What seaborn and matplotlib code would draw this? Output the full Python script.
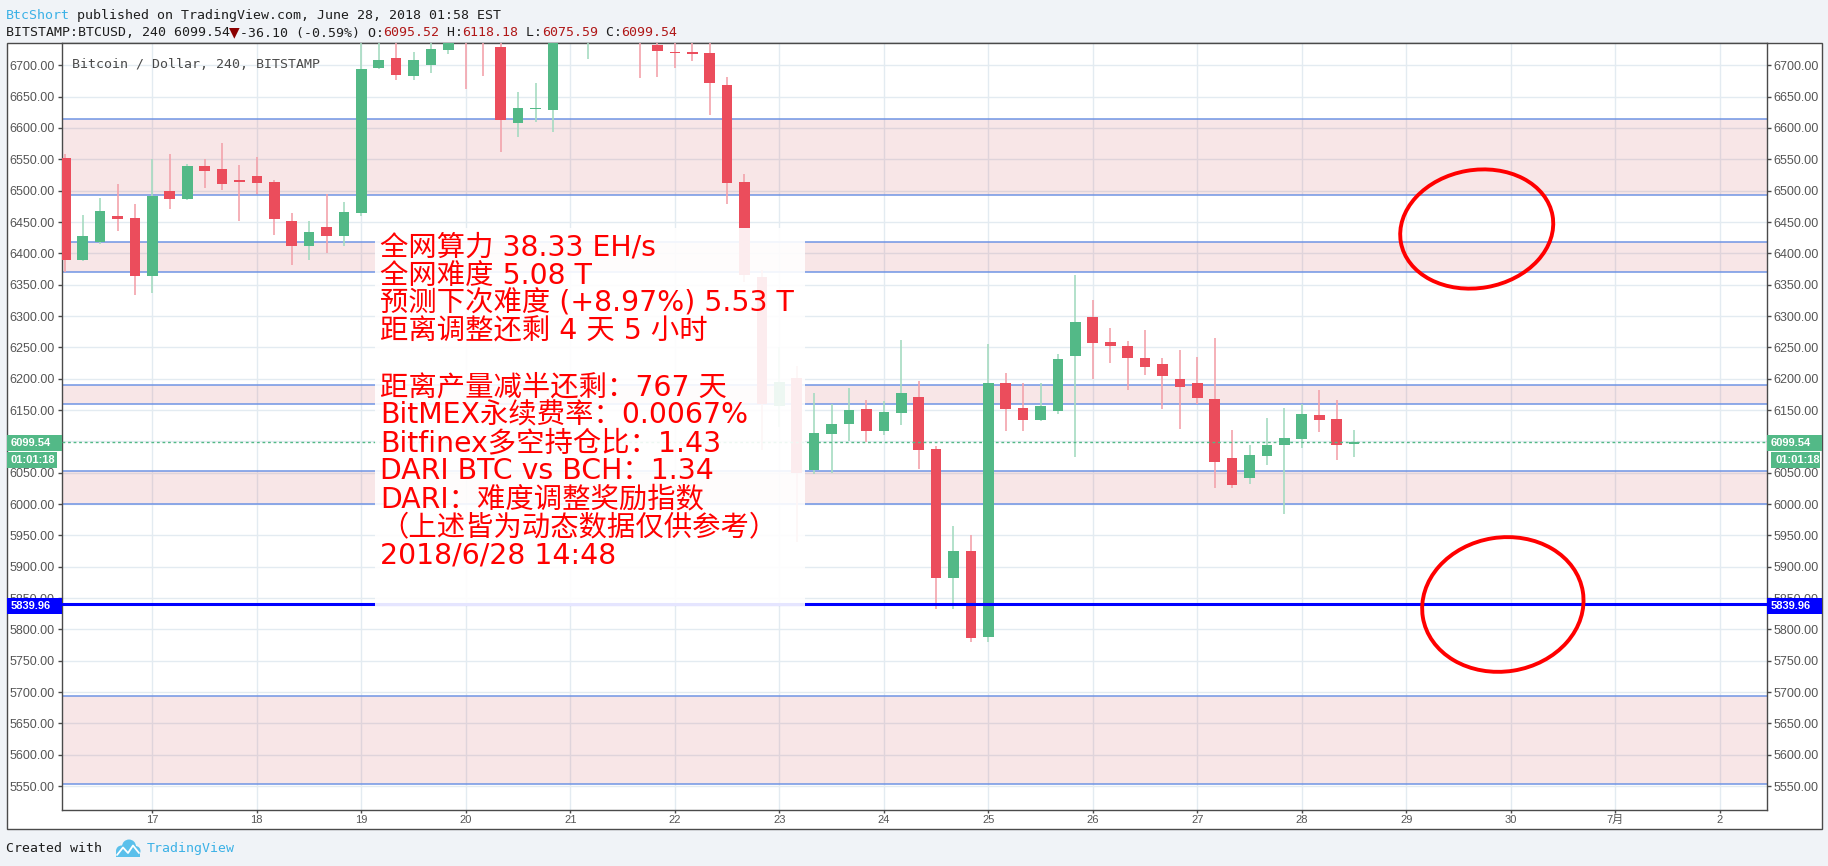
import numpy as np
import pandas as pd
import matplotlib
matplotlib.use('Agg')
import matplotlib.pyplot as plt
import matplotlib.dates as mdates
from matplotlib.patches import Rectangle, Ellipse, Circle
from matplotlib.transforms import ScaledTranslation, blended_transform_factory
import seaborn as sns

#4h candles of BITSTAMP:BTCUSD, first bar 2018-06-16 04:00
first_bar = '2018-06-16 04:00'
opens = [6552, 6389, 6418, 6460, 6456, 6364, 6499, 6487, 6539, 6535,
         6517, 6524, 6514, 6452, 6412, 6442, 6427, 6465, 6696, 6712,
         6683, 6700, 6725, 6760, 6748, 6729, 6608, 6630, 6629, 6742,
         6758, 6785, 6765, 6755, 6732, 6722, 6721, 6720, 6669, 6514,
         6362, 6157, 6201, 6055, 6112, 6128, 6152, 6117, 6145, 6171,
         6088, 5882, 5925, 5788, 6193, 6153, 6134, 6148.5, 6236, 6298.5,
         6258.6, 6252.2, 6233, 6223.5, 6199.6, 6193, 6167.6, 6073.5, 6041.6, 6076.7,
         6094.2, 6103.8, 6142.1, 6135.7, 6095.52]
highs = [6558, 6461, 6489, 6511, 6479, 6551, 6559, 6543, 6551, 6576,
         6541, 6553, 6517, 6464, 6452, 6495, 6482, 6745, 6750, 6748,
         6721, 6752, 6768, 6778, 6762, 6745, 6657, 6672, 6760, 6795,
         6800, 6810, 6790, 6770, 6752, 6740, 6740, 6740, 6681, 6527,
         6374, 6251, 6220, 6177, 6160, 6185, 6166, 6164.5, 6262, 6196,
         6092, 5965, 5951, 6255, 6209, 6193, 6193, 6239.4, 6365.5, 6325.6,
         6281, 6260, 6277.7, 6233, 6245.8, 6234.7, 6265, 6118.2, 6094.3, 6137.3,
         6153.3, 6159.7, 6182, 6166, 6118.18]
lows = [6371, 6387, 6415, 6435, 6334, 6337, 6471, 6485, 6505, 6501,
        6451, 6495, 6430, 6382, 6390, 6401, 6412, 6459, 6694, 6676,
        6676, 6687, 6718, 6662, 6683, 6561, 6585, 6610, 6594, 6738,
        6710, 6750, 6742, 6679, 6682, 6695, 6707, 6620, 6479, 6355,
        6086, 6123, 5940, 6048, 6050, 6100, 6099, 6110, 6126, 6056,
        5833, 5833, 5780, 5780, 6117, 6117, 6132.5, 6143.7, 6075, 6199.6,
        6225, 6182, 6206, 6151.7, 6119.8, 6159.7, 6025.7, 6025.7, 6032, 6062.3,
        5984.2, 6089.5, 6115, 6070.3, 6075.59]
closes = [6389, 6428, 6468, 6455, 6364, 6492, 6487, 6539, 6532, 6510,
          6514, 6513, 6454, 6412, 6434, 6427, 6466, 6694, 6708, 6685,
          6708, 6726, 6745, 6745, 6738, 6613, 6632, 6631, 6742, 6770,
          6785, 6765, 6755, 6738, 6723, 6720, 6718.6, 6672, 6513, 6366,
          6160, 6194, 6050, 6113, 6128, 6150, 6117, 6147, 6177, 6086,
          5882, 5925, 5786, 6193, 6152, 6134, 6156, 6231.5, 6290.5, 6257,
          6252.2, 6233, 6218.7, 6204.3, 6186.8, 6169.2, 6067.1, 6030.4, 6078.3, 6094.3,
          6105.4, 6143.7, 6134.1, 6094.2, 6099.54]

#support / resistance zones drawn on the chart
zones_top = [6613.8, 6417.6, 6189.5, 6052.3, 5693.8]
zones_bottom = [6492.6, 6369.7, 6159.2, 6000.1, 5553.4]
level_price = 5839.96
last_price = 6099.54
countdown = '01:01:18'

#axes
price_ticks = list(range(5550, 6701, 50))
hidden_ticks = [6100]  # covered by the last price tag
day_ticks = pd.date_range('2018-06-17', periods=16, freq='D')
day_labels = ['17', '18', '19', '20', '21', '22', '23', '24', '25', '26',
              '27', '28', '29', '30', '7月', '2']

#text block
info_lines = ['全网算力 38.33 EH/s',
              '全网难度 5.08 T',
              '预测下次难度 (+8.97%) 5.53 T',
              '距离调整还剩 4 天 5 小时',
              '',
              '距离产量减半还剩：767 天',
              'BitMEX永续费率：0.0067%',
              'Bitfinex多空持仓比：1.43',
              'DARI BTC vs BCH：1.34',
              'DARI：难度调整奖励指数',
              '（上述皆为动态数据仅供参考）',
              '2018/6/28 14:48']

#red circles (centre time, centre price)
ring_times = ['2018-06-29 16:10', '2018-06-29 22:10']
ring_prices = [6438.8, 5839.8]

#%%
sns.set_style('white')
plt.rcParams['font.family'] = ['Liberation Sans', 'Noto Sans CJK SC', 'DejaVu Sans']

W, H = 1828, 866
fig = plt.figure(figsize=(W / 100, H / 100), dpi=100)
fig.patch.set_facecolor('#f0f3f7')


def fx(px):
    return px / W


def fy(py):
    return 1 - py / H


GREEN = '#53b987'
RED = '#eb4d5c'
GRID = '#e3ebf1'
FRAME = '#4a4a4a'
ZONE_LINE = '#7094e4'
MONO = 9.5
ADV = 0.60205 * MONO * 100 / 72
MONO_FAM = ['DejaVu Sans Mono', 'DejaVu Sans']

#chart panel
fig.add_artist(Rectangle((fx(6.7), fy(829)), fx(1821.7) - fx(6.7), fy(43.3) - fy(829),
                         transform=fig.transFigure, facecolor='white', edgecolor=FRAME,
                         lw=1, zorder=-5))

ax = fig.add_axes([fx(61.7), fy(810), fx(1766.7) - fx(61.7), fy(43.3) - fy(810)])
ax.set_facecolor('white')
ymin, ymax = 5511.9, 6735.1
ax.set_ylim(ymin, ymax)
ax.set_xlim(mdates.date2num(pd.Timestamp('2018-06-16 03:11')),
            mdates.date2num(pd.Timestamp('2018-07-02 10:46')))

#candles
t = pd.date_range(first_bar, periods=len(opens), freq='4h')
x = mdates.date2num(t)
o = np.array(opens, dtype=float)
h = np.array(highs, dtype=float)
l = np.array(lows, dtype=float)
c = np.array(closes, dtype=float)
up = c >= o
body_w = 0.102
ax.vlines(x[up], l[up], h[up], color='#a6dbc1', lw=1.2, zorder=3)
ax.vlines(x[~up], l[~up], h[~up], color='#f3a3ac', lw=1.2, zorder=3)
ax.bar(x[up], np.maximum(c - o, 1.5)[up], bottom=o[up], width=body_w,
       color=GREEN, lw=0, zorder=4)
ax.bar(x[~up], np.maximum(o - c, 1.5)[~up], bottom=c[~up], width=body_w,
       color=RED, lw=0, zorder=4)

#zones
for top, bot in zip(zones_top, zones_bottom):
    ax.axhspan(bot, top, facecolor='#c0202a', alpha=0.11, lw=0, zorder=1)
    ax.axhline(top, color=ZONE_LINE, lw=1.1, zorder=2)
    ax.axhline(bot, color=ZONE_LINE, lw=1.1, zorder=2)

ax.axhline(level_price, color='#0000ff', lw=2.2, zorder=5)
ax.axhline(last_price, color=GREEN, lw=1, ls=(0, (2, 2)), zorder=5)

#grid and ticks
ax.grid(True, color=GRID, lw=1)
ax.set_axisbelow(True)
ax.set_yticks(price_ticks)
ax.set_yticklabels(['' if p in hidden_ticks else f'{p:.2f}' for p in price_ticks])
ax.tick_params(axis='y', left=True, right=True, labelleft=True, labelright=True,
               length=3.2, width=1, color=FRAME, labelsize=9, labelcolor='#555555', pad=1.8)
ax.set_xticks(mdates.date2num(day_ticks))
ax.set_xticklabels(day_labels, fontsize=8, color='#555555',
                   family=['Liberation Sans Narrow', 'Liberation Sans', 'Noto Sans CJK SC'])
ax.tick_params(axis='x', bottom=True, length=2.2, width=1, color=FRAME, pad=1.5)
for s in ax.spines.values():
    s.set_color(FRAME)
    s.set_linewidth(1)

ax.text(fx(71.7), fy(68.1), 'Bitcoin / Dollar, 240, BITSTAMP', transform=fig.transFigure,
        fontsize=MONO, family=MONO_FAM, color='#4a4a4a', va='baseline', zorder=8)

#info box on top of the candles
ax.add_patch(Rectangle((fx(375), fy(606)), fx(805) - fx(375), fy(228) - fy(606),
                       transform=fig.transFigure, facecolor='white', alpha=0.9,
                       lw=0, zorder=6))
for k, line in enumerate(info_lines):
    ax.text(fx(380), fy(255.7 + k * 27.95), line, transform=fig.transFigure,
            fontsize=20.4, color='#ff0000', va='baseline', ha='left',
            family=['DejaVu Sans', 'Noto Sans CJK SC'], zorder=7)

#price tags on both scales
bt = blended_transform_factory(fig.transFigure, ax.transData)
ppx = (ymax - ymin) / (810 - 43.3)


def tag(x0, x1, price, dy_px, text, color):
    yc = price - dy_px * ppx
    hh = 15.7 * ppx
    fig.add_artist(Rectangle((fx(x0), yc - hh / 2), fx(x1) - fx(x0), hh, transform=bt,
                             facecolor=color, lw=0, zorder=3))
    fig.text(fx(x0 + 4), yc, text, transform=bt, color='white', fontsize=8,
             fontweight='bold', va='center', ha='left', zorder=4)


tag(6.7, 61.7, last_price, 1.1, f'{last_price:.2f}', GREEN)
tag(6.7, 57, last_price, 18.3, countdown, GREEN)
tag(6.7, 61.7, level_price, 1.5, f'{level_price:.2f}', '#0000ff')
tag(1766.7, 1821.5, last_price, 1.1, f'{last_price:.2f}', GREEN)
tag(1771, 1820, last_price, 18.3, countdown, GREEN)
tag(1766.7, 1821.5, level_price, 1.5, f'{level_price:.2f}', '#0000ff')

#hand drawn red circles
for tm, p, w, hgt, a in zip(ring_times, ring_prices, [1.54, 1.62], [1.18, 1.34], [10, 9]):
    tr = fig.dpi_scale_trans + ScaledTranslation(mdates.date2num(pd.Timestamp(tm)), p, ax.transData)
    fig.add_artist(Ellipse((0, 0), w, hgt, angle=a, transform=tr, fill=False,
                           edgecolor='#ff0000', lw=2.8, zorder=5))


#header and footer
def mono_line(x0, base, parts, n=0):
    for s, col in parts:
        fig.text(fx(x0 + n * ADV), fy(base), s, color=col, fontsize=MONO,
                 family=MONO_FAM, va='baseline', ha='left')
        n += len(s)


DARK = '#1e1e1e'
VAL = '#b01818'
BLUE = '#3bb1e6'
mono_line(5.7, 19.1, [('BtcShort', BLUE),
                      (' published on TradingView.com, June 28, 2018 01:58 EST', DARK)])
mono_line(5.7, 36.5, [('BITSTAMP:BTCUSD, 240 6099.54', DARK)])
fig.text(fx(5.7 + 28.75 * ADV), fy(36.5), '▼', color='#8b0000', fontsize=10,
         family='DejaVu Sans', va='baseline', ha='center')
mono_line(5.7, 36.5, [('-36.10 (-0.59%) O:', DARK), ('6095.52', VAL), (' H:', DARK),
                      ('6118.18', VAL), (' L:', DARK), ('6075.59', VAL), (' C:', DARK),
                      ('6099.54', VAL)], n=29.5)
mono_line(5.7, 852.3, [('Created with', DARK)])
mono_line(146.4, 852.3, [('TradingView', BLUE)])

#small cloud logo
lt = fig.dpi_scale_trans
for cx, cy, r in [(121.5, 851, 5.5), (129, 846.5, 7), (135.5, 851, 5)]:
    fig.add_artist(Circle((cx / 100, (H - cy) / 100), r / 100, transform=lt,
                          facecolor='#5bc0eb', lw=0))
fig.add_artist(Rectangle((116 / 100, (H - 856.5) / 100), 24 / 100, 6 / 100, transform=lt,
                         facecolor='#5bc0eb', lw=0))
zx = np.array([117, 123, 128, 133, 139]) / 100
zy = (H - np.array([855, 847.5, 853, 845.5, 853])) / 100
fig.add_artist(plt.Line2D(zx, zy, transform=lt, color='white', lw=1.3))

fig.savefig('out.png', dpi=100, facecolor=fig.get_facecolor())
